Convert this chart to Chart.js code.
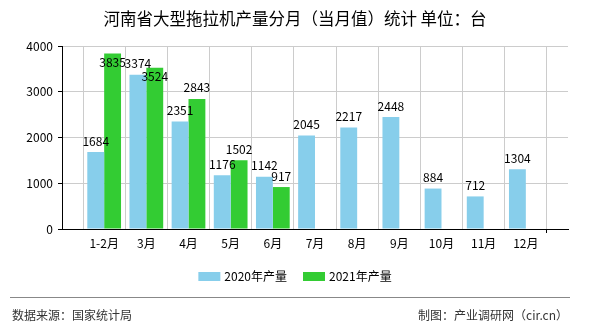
<!DOCTYPE html>
<html>
<head>
<meta charset="utf-8">
<script src="https://cdn.jsdelivr.net/npm/chart.js@4.4.1/dist/chart.umd.min.js"></script>
<style>
  html, body { margin: 0; padding: 0; background: #fff; }
  #wrap { width: 590px; height: 330px; }
</style>
</head>
<body>
<div id="wrap"><canvas id="chart" width="590" height="330"></canvas></div>
<script>
const FONT = '"Noto Sans CJK SC", "DejaVu Sans", sans-serif';

const months = ['1-2月', '3月', '4月', '5月', '6月', '7月', '8月', '9月', '10月', '11月', '12月'];
const output2020 = [1684, 3374, 2351, 1176, 1142, 2045, 2217, 2448, 884, 712, 1304];
const output2021 = [3835, 3524, 2843, 1502, 917, null, null, null, null, null, null];
const seriesNames = ['2020年产量', '2021年产量'];
const seriesColors = ['#87ceeb', '#33cc33'];
const yMin = 0, yMax = 4000, yStep = 1000;

const titleText = '河南省大型拖拉机产量分月（当月值）统计 单位：台';
const sourceText = '数据来源：国家统计局';
const creditText = '制图：产业调研网（cir.cn）';

// empty slot at both ends so months sit on the grid lines
const axisLabels = [''].concat(months, ['']);
const pad = arr => [null].concat(arr, [null]);

const decor = {
  id: 'decor',
  beforeDraw(chart) {
    const c = chart.ctx;
    c.save();
    c.fillStyle = '#fff';
    c.fillRect(0, 0, chart.width, chart.height);
    c.restore();
  },
  afterDatasetsDraw(chart) {
    const c = chart.ctx, area = chart.chartArea;
    c.save();
    c.font = '12px ' + FONT;
    c.fillStyle = '#000';
    c.textAlign = 'center';
    c.textBaseline = 'middle';
    const placed = [];
    for (let i = 0; i < axisLabels.length; i++) {
      chart.data.datasets.forEach((ds, d) => {
        const v = ds.data[i];
        if (v == null) return;
        const bar = chart.getDatasetMeta(d).data[i];
        const txt = String(v);
        const w = c.measureText(txt).width;
        let y = Math.max(bar.y - 11, area.top + 16);
        // push a label into the bar when it would collide with its neighbour
        const hit = placed.some(r => Math.abs(r.x - bar.x) < (r.w + w) / 2 - 3 && Math.abs(r.y - y) < 9.5);
        if (hit) y = bar.y + 9;
        c.fillText(txt, bar.x, y);
        placed.push({ x: bar.x, y: y, w: w });
      });
    }
    c.restore();
  },
  afterDraw(chart) {
    const c = chart.ctx, W = chart.width;
    c.save();

    // title
    c.font = '16.5px ' + FONT;
    c.fillStyle = '#000';
    c.textAlign = 'center';
    c.textBaseline = 'middle';
    c.fillText(titleText, W / 2, 19);

    // legend
    c.font = '12px ' + FONT;
    c.textAlign = 'left';
    const boxW = 22, boxH = 9, gap = 4, itemGap = 16;
    const widths = seriesNames.map(n => boxW + gap + c.measureText(n).width);
    const total = widths.reduce((a, b) => a + b, 0) + itemGap * (widths.length - 1);
    let x = W / 2 - total / 2;
    const ly = 276.5;
    seriesNames.forEach((n, i) => {
      c.fillStyle = seriesColors[i];
      c.fillRect(x, ly - boxH / 2, boxW, boxH);
      c.fillStyle = '#000';
      c.fillText(n, x + boxW + gap, ly);
      x += widths[i] + itemGap;
    });

    // footer
    c.strokeStyle = '#888';
    c.lineWidth = 1;
    c.beginPath();
    c.moveTo(10, 297.5);
    c.lineTo(570, 297.5);
    c.stroke();
    c.fillStyle = '#333';
    c.textAlign = 'left';
    c.fillText(sourceText, 12, 315);
    c.textAlign = 'right';
    c.fillText(creditText, 568, 315);
    c.restore();
  }
};

new Chart(document.getElementById('chart'), {
  type: 'bar',
  data: {
    labels: axisLabels,
    datasets: [
      { label: seriesNames[0], data: pad(output2020), backgroundColor: seriesColors[0], borderWidth: 0 },
      { label: seriesNames[1], data: pad(output2021), backgroundColor: seriesColors[1], borderWidth: 0 }
    ]
  },
  options: {
    responsive: false,
    devicePixelRatio: 1,
    animation: false,
    layout: { padding: { top: 46, right: 22, bottom: 0, left: 0 } },
    datasets: { bar: { categoryPercentage: 0.8, barPercentage: 1.0 } },
    scales: {
      x: {
        offset: false,
        grid: {
          color: '#cccccc',
          tickLength: 4,
          tickColor: ctx => (ctx.index === 0 || ctx.index === axisLabels.length - 1) ? '#000' : 'rgba(0,0,0,0)'
        },
        border: { color: '#000' },
        ticks: { color: '#000', font: { family: FONT, size: 12 }, padding: 3, autoSkip: false, maxRotation: 0 },
        afterFit: s => { s.height = 101; }
      },
      y: {
        min: yMin,
        max: yMax,
        grid: { color: '#cccccc', tickColor: '#000', tickLength: 4 },
        border: { color: '#000' },
        ticks: {
          stepSize: yStep,
          color: '#000',
          font: { family: FONT, size: 12 },
          padding: 5,
          callback: v => String(v)
        },
        afterFit: s => { s.width = 62; }
      }
    },
    plugins: {
      legend: { display: false },
      title: { display: false },
      tooltip: { enabled: false }
    }
  },
  plugins: [decor]
});
</script>
</body>
</html>
